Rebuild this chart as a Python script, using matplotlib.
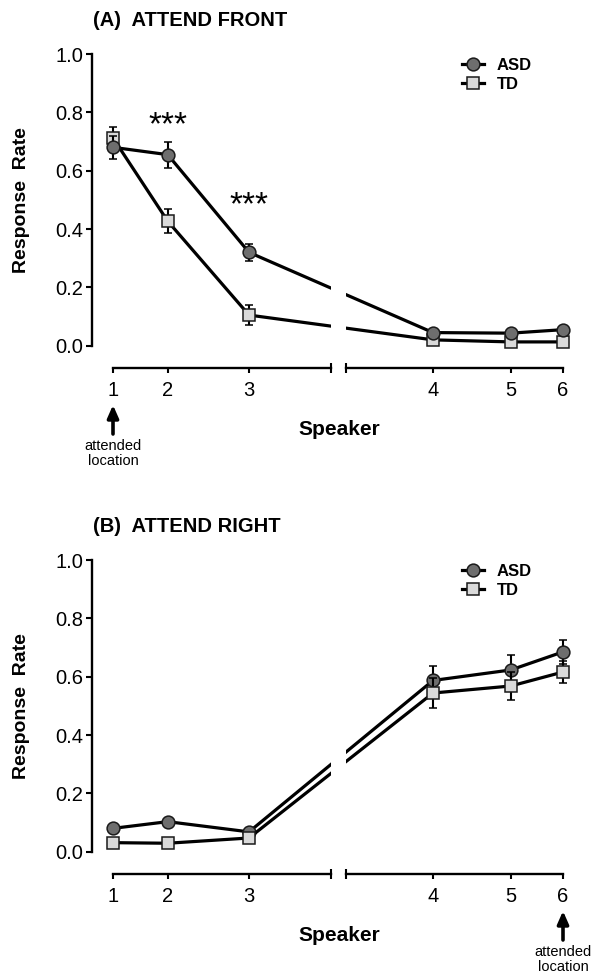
import matplotlib
matplotlib.use("Agg")
import matplotlib.pyplot as plt
from matplotlib.lines import Line2D

plt.rcParams["font.family"] = ["Liberation Sans", "DejaVu Sans"]

# Data
speakers = ["1", "2", "3", "4", "5", "6"]

asd_front = [0.68, 0.655, 0.32, 0.045, 0.043, 0.055]
asd_front_err = [0.04, 0.045, 0.03, 0.01, 0.01, 0.01]
td_front = [0.712, 0.427, 0.105, 0.02, 0.013, 0.013]
td_front_err = [0.037, 0.04, 0.033, 0.008, 0.008, 0.008]

asd_right = [0.08, 0.103, 0.068, 0.587, 0.623, 0.685]
asd_right_err = [0.012, 0.012, 0.01, 0.048, 0.05, 0.04]
td_right = [0.031, 0.029, 0.047, 0.544, 0.568, 0.616]
td_right_err = [0.01, 0.01, 0.01, 0.05, 0.048, 0.038]

# Layout: horizontal speaker spacing (broken axis between 3 and 4)
spk_x = [0, 54.7, 136, 320, 397.7, 450]
brk = (218, 233)

W, H = 593, 976
DPI = 100
fig = plt.figure(figsize=(W / DPI, H / DPI), dpi=DPI)

YPX = 291.7  # pixels per 1.0 response rate
YLO, YHI = -0.035, 1.035
AXIS_Y = -0.075

STYLE = {"ASD": dict(marker="o", mfc="#6e6e6e"),
         "TD": dict(marker="s", mfc="#dadada")}


def panel(top_px, title, asd, asd_err, td, td_err, arrow_idx, stars, td_on_top):
    bottom = H - (top_px + YPX * YHI)
    height = YPX * (YHI - YLO)
    axl = fig.add_axes([91.7 / W, bottom / H, 239.3 / W, height / H])
    axr = fig.add_axes([346 / W, bottom / H, 229 / W, height / H])
    axl.set_xlim(-21.3, brk[0])
    axr.set_xlim(brk[1], brk[1] + 229)

    for ax in (axl, axr):
        ax.set_ylim(YLO, YHI)
        ax.patch.set_alpha(0)
        for s in ("top", "right"):
            ax.spines[s].set_visible(False)
        ax.spines["bottom"].set_position(("data", AXIS_Y))
        ax.spines["bottom"].set_linewidth(1.7)
        ax.spines["left"].set_linewidth(1.7)
        ax.tick_params(axis="both", direction="out", width=1.5, labelsize=14.5,
                       colors="black")
        ax.tick_params(axis="x", length=3.5, pad=6)
        ax.tick_params(axis="y", length=4, pad=2)

        order = [("ASD", asd, asd_err), ("TD", td, td_err)]
        if not td_on_top:
            order = order[::-1]
        for z, (lab, y, e) in enumerate(order):
            ax.errorbar(spk_x, y, yerr=e, color="black", lw=2.3, elinewidth=1.5,
                        capsize=2.6, capthick=1.5, ms=9.2, mec="#1a1a1a", mew=1.1,
                        zorder=3 + z, **STYLE[lab])

    axl.spines["left"].set_bounds(0, 1)
    axl.set_yticks([0, 0.2, 0.4, 0.6, 0.8, 1.0])
    axl.set_yticklabels([f"{v:.1f}" for v in [0, 0.2, 0.4, 0.6, 0.8, 1.0]])
    axl.spines["bottom"].set_bounds(spk_x[0], brk[0])
    axl.set_xticks(spk_x[:3])
    axl.set_xticklabels(speakers[:3])

    axr.spines["left"].set_visible(False)
    axr.tick_params(axis="y", left=False, labelleft=False)
    axr.spines["bottom"].set_bounds(brk[1], spk_x[5])
    axr.set_xticks(spk_x[3:])
    axr.set_xticklabels(speakers[3:])

    # end marks of the broken x axis
    axl.plot([brk[0]], [AXIS_Y], marker="|", ms=7, mew=1.5, color="black", clip_on=False)
    axr.plot([brk[1]], [AXIS_Y], marker="|", ms=7, mew=1.5, color="black", clip_on=False)

    # titles and labels
    fig.text(93 / W, 1 - (top_px - 33) / H, title, fontsize=14.5, fontweight="bold",
             ha="left", va="center")
    fig.text(22 / W, 1 - (top_px + 146) / H, "Response  Rate", rotation=90,
             fontsize=14, fontweight="bold", ha="center", va="center")
    fig.text(339 / W, 1 - (top_px + 381) / H, "Speaker", fontsize=15,
             fontweight="bold", ha="center", va="baseline")

    # legend (no error bars in the key)
    handles = [Line2D([], [], color="black", lw=2.3, ms=9.2, mec="#1a1a1a", mew=1.1,
                      **STYLE[k]) for k in ("ASD", "TD")]
    axr.legend(handles, ["ASD", "TD"], loc="upper left",
               bbox_to_anchor=(462 / W, 1 - (top_px + 4) / H),
               bbox_transform=fig.transFigure, frameon=False,
               prop={"weight": "bold", "size": 12}, handlelength=1.3,
               handletextpad=0.8, labelspacing=0.22, borderpad=0, borderaxespad=0)

    # significance stars
    for idx, yv in stars:
        axl.text(spk_x[idx], yv, "***", fontsize=24, ha="center", va="center")

    # attended location arrow
    ax_arrow = axl if arrow_idx < 3 else axr
    base = top_px + YPX * YHI
    ytop = (base - (top_px + 351)) / height
    ybot = (base - (top_px + 380)) / height
    ax_arrow.annotate("", xy=(spk_x[arrow_idx], ytop), xytext=(spk_x[arrow_idx], ybot),
                      xycoords=("data", "axes fraction"), textcoords=("data", "axes fraction"),
                      arrowprops=dict(arrowstyle="-|>,head_length=0.75,head_width=0.33",
                                      lw=2.6, color="black", shrinkA=0, shrinkB=0))
    ytxt = (base - (top_px + 385)) / height
    ax_arrow.annotate("attended\nlocation", xy=(spk_x[arrow_idx], ytxt),
                      xycoords=("data", "axes fraction"), ha="center", va="top",
                      fontsize=10.5, linespacing=1.05, annotation_clip=False)


panel(54, "(A)  ATTEND FRONT", asd_front, asd_front_err, td_front, td_front_err,
      0, [(1, 0.755), (2, 0.48)], td_on_top=False)
panel(560, "(B)  ATTEND RIGHT", asd_right, asd_right_err, td_right, td_right_err,
      5, [], td_on_top=True)

fig.savefig("out.png", dpi=DPI)
